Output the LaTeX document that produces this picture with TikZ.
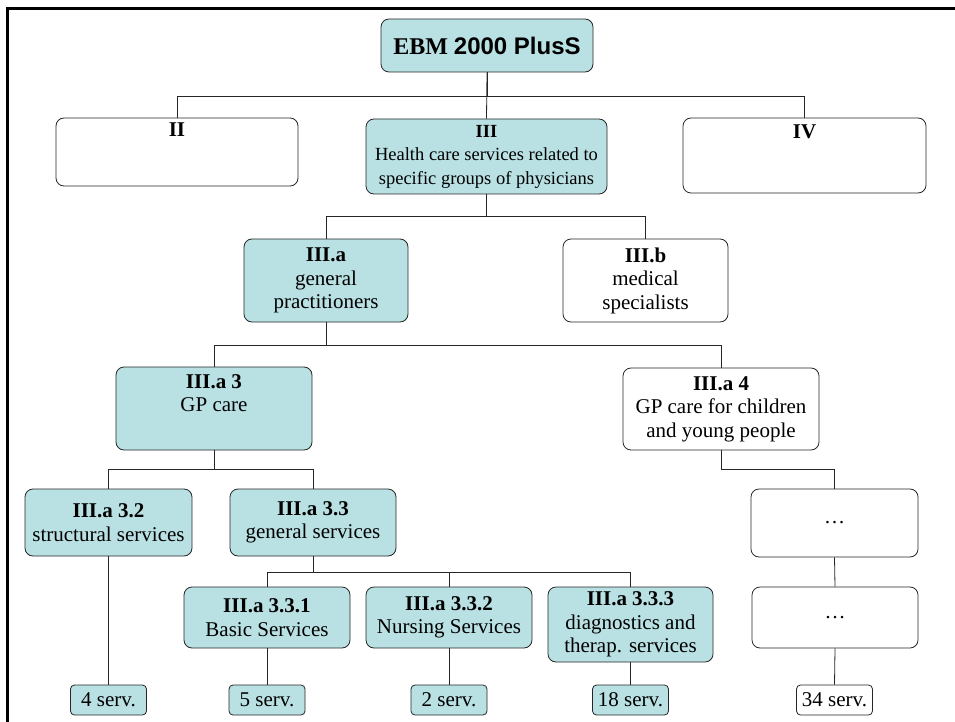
\documentclass[tikz,border=0pt]{standalone}
\usepackage{fontspec}
\setmainfont{Liberation Serif}
\newfontfamily\arialfont{Liberation Sans}
\usepackage{xcolor}
\usepackage{tikz}
\definecolor{boxteal}{RGB}{185,224,227}
\tikzset{>=stealth,
  unit/.style={draw=black!85, line width=0.8pt, rounded corners=8pt, align=center,
    inner sep=2pt, font=\fontsize{21}{23.5}\selectfont},
  unitfill/.style={unit, fill=boxteal},
  count/.style={unit, rounded corners=4pt, inner sep=1pt, minimum width=76pt, minimum height=30pt},
  link/.style={draw=black!85, line width=0.8pt}}

\begin{document}
\begin{tikzpicture}[x=1pt,y=-1pt]
       \useasboundingbox (0,0) rectangle (955,722);
       \draw [line width=2.5pt] (7.5,722)--(7.5,8.5)--(955,8.5);
       % top levels
       \node[unitfill, minimum width=212pt, minimum height=53pt, font=\fontsize{24}{28}\selectfont\bfseries] at (487,45.5) (root) {EBM {\arialfont 2000 PlusS}};
       \node[unit, minimum width=242pt, text height=17pt, text depth=47pt] at (177,152) (ii) {\textbf{II}};
       \node[unitfill, minimum width=241pt, minimum height=75pt, font=\fontsize{18.5}{23.5}\selectfont] at (486.5,156.5) (iii) {\textbf{III}\\Health care services related to\\specific groups of physicians};
       \node[unit, minimum width=243pt, text height=19pt, text depth=52pt] at (804.5,155.5) (iv) {\textbf{IV}};
    \node[unitfill, minimum width=164pt, minimum height=83pt] at (326,280.5) (iiia) {\textbf{III.a}\\general\\practitioners};
    \node[unit, minimum width=165pt, minimum height=83pt] at (645.5,280.5) (iiib) {\textbf{III.b}\\medical\\specialists};
    \node[unitfill, minimum width=196pt, minimum height=83pt] at (214,408.5) (gpcare) {\textbf{III.a 3}\\GP care\\\strut};
    \node[unit, minimum width=196pt, minimum height=82pt] at (721,409) (gpyoung) {\textbf{III.a 4}\\GP care for children\\and young people};
    % services
    \node[unitfill, minimum width=167pt, minimum height=67pt] at (108.5,522.5) (structural) {\textbf{III.a 3.2}\\structural services};
    \node[unitfill, minimum width=166pt, minimum height=67pt] at (313,522.5) (general) {\textbf{III.a 3.3}\\general services};
    \node[unit, minimum width=167pt, minimum height=68pt] at (834.5,523) (moreA) {\dots};
    \node[unitfill, minimum width=166pt, minimum height=61pt] at (267,617.5) (basic) {\textbf{III.a 3.3.1}\\Basic Services};
    \node[unitfill, minimum width=166pt, minimum height=61pt] at (449,617.5) (nursing) {\textbf{III.a 3.3.2}\\Nursing Services};
    \node[unitfill, minimum width=165pt, minimum height=75pt] at (630.5,624.5) (diagnostics) {\textbf{III.a 3.3.3}\\diagnostics and\\therap. services};
    \node[unit, minimum width=166pt, minimum height=61pt] at (835,617.5) (moreB) {\dots};
    % counts
    \node[count, fill=boxteal] at (108.5,700) (cnta) {4 serv.};
    \node[count, fill=boxteal] at (267,700) (cntb) {5 serv.};
    \node[count, fill=boxteal] at (449,700) (cntc) {2 serv.};
    \node[count, fill=boxteal] at (630.5,700) (cntd) {18 serv.};
    \node[count] at (834.5,700) (cnte) {34 serv.};
    % connectors
    \draw[link] (root.south) -- ++(0,24) -| (ii.north);
    \draw[link] (root.south) -- ++(0,24) -| (iv.north);
    \draw[link] (root.south) -- (iii.north);
    \draw[link] (iii.south) -- ++(0,22) -| (iiia.north);
    \draw[link] (iii.south) -- ++(0,22) -| (iiib.north);
    \draw[link] (iiia.south) -- ++(0,23) -| (gpcare.north);
    \draw[link] (iiia.south) -- ++(0,23) -| (gpyoung.north);
    \draw[link] (gpcare.south) -- ++(0,19) -| (structural.north);
    \draw[link] (gpcare.south) -- ++(0,19) -| (general.north);
    \draw[link] (gpyoung.south) -- ++(0,19) -| (moreA.north);
    \draw[link] (general.south) -- ++(0,16) -| (basic.north);
    \draw[link] (general.south) -- ++(0,16) -| (nursing.north);
    \draw[link] (general.south) -- ++(0,16) -| (diagnostics.north);
    \draw[link] (moreA.south) -- (moreB.north);
    \draw[link] (structural.south) -- (cnta.north);
    \draw[link] (basic.south) -- (cntb.north);
    \draw[link] (nursing.south) -- (cntc.north);
    \draw[link] (diagnostics.south) -- (cntd.north);
    \draw[link] (moreB.south) -- (cnte.north);
    \end{tikzpicture}
\end{document}
